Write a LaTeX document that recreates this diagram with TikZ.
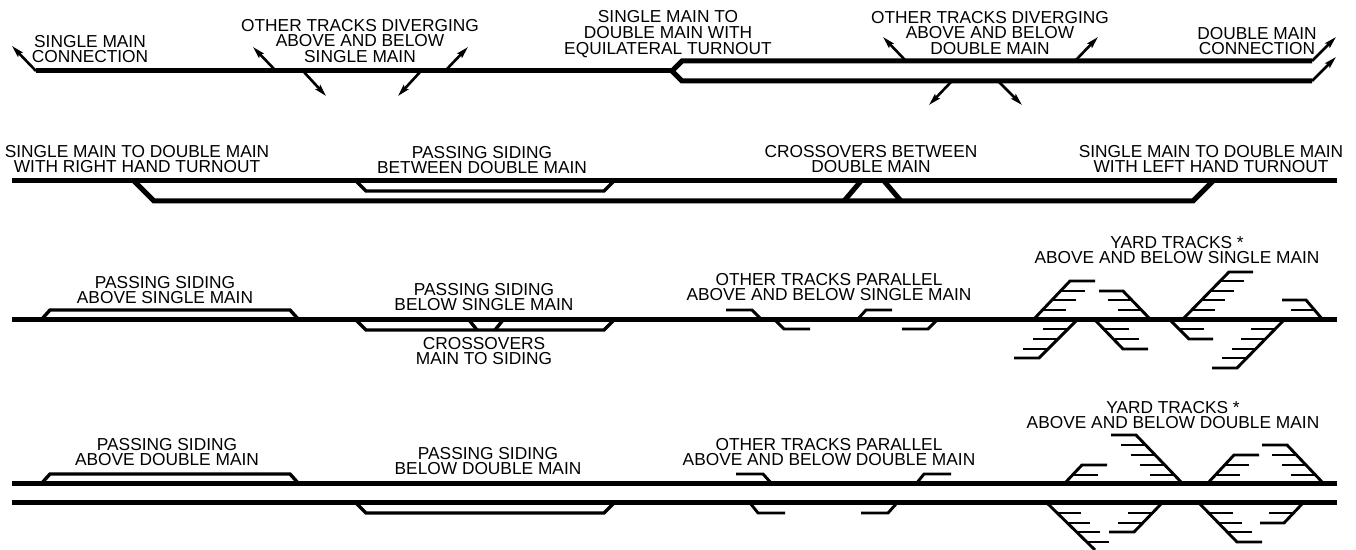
\documentclass[tikz,border=0pt]{standalone}
\usepackage{fontspec}
\setmainfont{Liberation Sans}
\usetikzlibrary{arrows.meta}
\tikzset{
  lbl/.style={align=center,inner sep=0pt,font=\fontsize{8.66}{7.8}\selectfont},
  mainline/.style={line width=2.5pt},
  siding/.style={line width=1.7pt,line join=miter},
  yard/.style={line width=1.45pt},
  branch/.style={line width=1.3pt,-{Stealth[length=6pt,width=3.2pt,inset=1pt]}},
}
\begin{document}
\begin{tikzpicture}[x=0.5pt,y=-0.5pt]
\useasboundingbox (0,0) rectangle (1356,550);
% first row
\node[lbl] (conna) at (90,49) {SINGLE MAIN\\CONNECTION};
\node[lbl] (diva) at (360,41) {OTHER TRACKS DIVERGING\\ABOVE AND BELOW\\SINGLE MAIN};
\node[lbl] (equi) at (668,34) {SINGLE MAIN TO\\DOUBLE MAIN WITH\\EQUILATERAL TURNOUT};
\node[lbl] (divb) at (990,33) {OTHER TRACKS DIVERGING\\ABOVE AND BELOW\\DOUBLE MAIN};
\node[lbl] (connb) at (1257,41) {DOUBLE MAIN\\CONNECTION};
\draw[mainline] (36,71) -- (672,71);
\draw[mainline,line join=miter] (1312,61) -- (682,61) -- (672,71) -- (682,81) -- (1312,81);
\draw[branch] (36,71) -- (12,46);
\draw[branch] (276,71) -- (253,47);
\draw[branch] (445,71) -- (468,47);
\draw[branch] (303,71) -- (326,96);
\draw[branch] (421,71) -- (398,96);
\draw[branch] (906,61) -- (883,37);
\draw[branch] (1075,61) -- (1098,37);
\draw[branch] (952,81) -- (929,105);
\draw[branch] (998,81) -- (1022,105);
\draw[branch] (1312,61) -- (1336,37);
\draw[branch] (1312,81) -- (1336,57);
% second row
\node[lbl] (rhand) at (137,159) {SINGLE MAIN TO DOUBLE MAIN\\WITH RIGHT HAND TURNOUT};
\node[lbl] (between) at (482,160) {PASSING SIDING\\BETWEEN DOUBLE MAIN};
\node[lbl] (cross) at (871,159) {CROSSOVERS BETWEEN\\DOUBLE MAIN};
\node[lbl] (lhand) at (1211,159) {SINGLE MAIN TO DOUBLE MAIN\\WITH LEFT HAND TURNOUT};
\draw[mainline] (12,181) -- (1337,181);
\draw[mainline] (134,181) -- (154,201) -- (1193,201) -- (1213,181);
\draw[siding] (356,181) -- (366,191) -- (604,191) -- (614,181);
\draw[mainline] (844,201) -- (861,181);
\draw[mainline] (884,181) -- (901,201);
% third row
\node[lbl] (abovea) at (165,290) {PASSING SIDING\\ABOVE SINGLE MAIN};
\node[lbl] (belowa) at (484,297) {PASSING SIDING\\BELOW SINGLE MAIN};
\node[lbl] (mainsid) at (484,351) {CROSSOVERS\\MAIN TO SIDING};
\node[lbl] (para) at (829,287) {OTHER TRACKS PARALLEL\\ABOVE AND BELOW SINGLE MAIN};
\node[lbl] (yarda) at (1177,250) {YARD TRACKS *\\ABOVE AND BELOW SINGLE MAIN};
\draw[mainline] (12,320) -- (1337,320);
\draw[siding] (41,320) -- (50,310) -- (290,310) -- (299,320);
\draw[siding] (356,320) -- (366,330) -- (604,330) -- (614,320);
\draw[siding] (469,320) -- (477,330);
\draw[siding] (495,330) -- (503,320);
\draw[yard] (726,310) -- (752,310) -- (762,320);
\draw[yard] (775,320) -- (784,329) -- (810,329);
\draw[yard] (857,320) -- (866,310) -- (892,310);
\draw[yard] (902,329) -- (928,329) -- (937,320);
% yards above and below the single main
\draw[yard] (1033,320) -- (1070,281) -- (1095,281);
\draw[yard] (1151,320) -- (1123,291) -- (1099,291);
\draw[yard] (1182,320) -- (1229,272) -- (1253,272);
\draw[yard] (1323,320) -- (1306,300) -- (1282,300);
\draw[yard] (1077,320) -- (1039,358) -- (1014,358);
\draw[yard] (1095,320) -- (1123,349) -- (1148,349);
\draw[yard] (1170,320) -- (1189,339) -- (1213,339);
\draw[yard] (1284,320) -- (1237,368) -- (1212,368);
\foreach \ya/\xa/\xb in {291/1061/1085,300/1052/1076,310/1042/1066,
  300/1108/1133,310/1118/1142,
  281/1220/1244,291/1211/1234,300/1201/1225,310/1192/1215,
  310/1291/1315,
  329/1043/1067,339/1033/1057,349/1023/1048,
  329/1105/1129,339/1115/1139,
  329/1180/1204,
  329/1251/1275,339/1241/1265,349/1232/1256,358/1222/1246}
  \draw[yard] (\xa,\ya) -- (\xb,\ya);
% fourth row
\node[lbl] (aboveb) at (167,452) {PASSING SIDING\\ABOVE DOUBLE MAIN};
\node[lbl] (belowb) at (488,461) {PASSING SIDING\\BELOW DOUBLE MAIN};
\node[lbl] (parb) at (829,452) {OTHER TRACKS PARALLEL\\ABOVE AND BELOW DOUBLE MAIN};
\node[lbl] (yardb) at (1173,415) {YARD TRACKS *\\ABOVE AND BELOW DOUBLE MAIN};
\draw[mainline] (12,484) -- (1337,484);
\draw[mainline] (12,503) -- (1337,503);
\draw[siding] (41,484) -- (50,474) -- (290,474) -- (299,484);
\draw[siding] (356,503) -- (366,513) -- (604,513) -- (614,503);
\draw[yard] (736,474) -- (763,474) -- (772,484);
\draw[yard] (750,503) -- (758,513) -- (785,513);
\draw[yard] (916,484) -- (924,474) -- (951,474);
\draw[yard] (861,513) -- (888,513) -- (897,503);
% yards above and below the double main
\draw[yard] (1064,484) -- (1082,465) -- (1107,465);
\draw[yard] (1183,484) -- (1136,435) -- (1111,435);
\draw[yard] (1207,484) -- (1234,455) -- (1259,455);
\draw[yard] (1324,484) -- (1287,445) -- (1262,445);
\draw[yard] (1047,503) -- (1095,550);
\draw[yard] (1162,503) -- (1134,532) -- (1109,532);
\draw[yard] (1199,503) -- (1237,542) -- (1262,542);
\draw[yard] (1303,503) -- (1284,523) -- (1260,523);
\foreach \ya/\xa/\xb in {475/1073/1098,
  445/1121/1146,455/1131/1155,465/1140/1165,475/1150/1174,
  465/1225/1249,475/1216/1240,
  455/1272/1297,465/1282/1306,475/1291/1316,
  513/1057/1081,523/1067/1090,532/1076/1100,542/1086/1109,
  513/1128/1152,523/1118/1143,
  513/1209/1233,523/1218/1242,532/1228/1252,
  513/1269/1293}
  \draw[yard] (\xa,\ya) -- (\xb,\ya);
\end{tikzpicture}
\end{document}
